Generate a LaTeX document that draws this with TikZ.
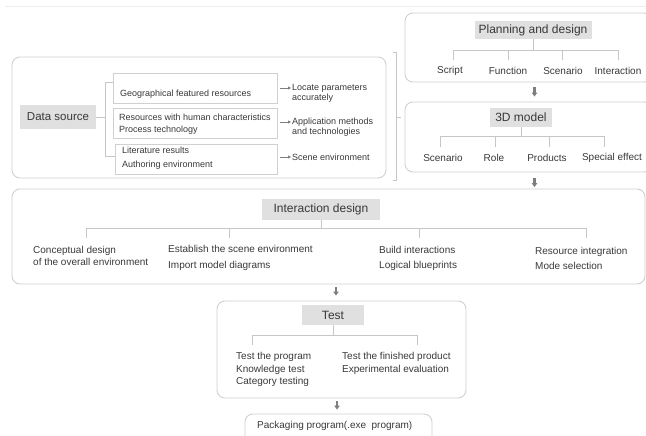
\documentclass[tikz,border=0pt]{standalone}
\usepackage{fontspec}
\setmainfont{Liberation Sans}
\usetikzlibrary{arrows.meta}
\definecolor{boxline}{HTML}{D0D0D0}
\definecolor{treeline}{HTML}{C6C6C6}
\definecolor{labfill}{HTML}{E0E0E0}
\definecolor{txt}{HTML}{383838}
\definecolor{arr}{HTML}{7E7E7E}
\definecolor{topl}{HTML}{EEEEEE}
\begin{document}
\begin{tikzpicture}[x=1pt,y=-1pt,
  panel/.style={draw=boxline, line width=0.9pt, rounded corners=8pt, inner sep=0},
  itembox/.style={draw=boxline, line width=0.9pt, inner sep=0},
  lab/.style={fill=labfill, text=txt, inner sep=0, font=\fontsize{12}{14}\selectfont},
  txtA/.style={text=txt, inner sep=0, font=\fontsize{10}{12}\selectfont, align=left},
  txtS/.style={text=txt, inner sep=0, font=\fontsize{9}{11}\selectfont, align=left},
  tree/.style={draw=treeline, line width=0.9pt},
  down/.style={draw=arr, line width=2.2pt, -{Triangle[width=5.5pt,length=4pt]}},
  smallarr/.style={draw=arr, line width=0.8pt, -{Triangle[width=3pt,length=3pt]}}
]
\useasboundingbox (0,0) rectangle (646,436);
\clip (0,0) rectangle (646,436);

% top rule
\coordinate (tl1) at (5,6);
\coordinate (tl2) at (646,6);
\draw[topl, line width=0.8pt] (tl1) -- (tl2);

% ---------------- Data source ----------------
\node[panel, minimum width=374pt, minimum height=121pt] (dsp) at (199,117.5) {};
\node[lab, font=\fontsize{11.5}{13}\selectfont, minimum width=76pt, minimum height=24pt] (dsl) at (58,117) {Data source};

\node[itembox, minimum width=164pt, minimum height=30pt] (b1) at (195,88) {};
\node[itembox, minimum width=164pt, minimum height=30pt] (b2) at (195,123) {};
\node[itembox, minimum width=162pt, minimum height=30pt] (b3) at (196,159) {};

\node[txtS, anchor=west] (g1) at (120,94) {Geographical featured resources};
\node[txtS, anchor=west, font=\fontsize{9}{12.3}\selectfont] (g2) at (119,124) {Resources with human characteristics\\Process technology};
\node[txtS, anchor=west, font=\fontsize{9}{13.3}\selectfont] (g3) at (122,158.3) {Literature results\\Authoring environment};

\coordinate (bk) at (105,117);
\coordinate (bt) at (105,82);
\coordinate (bb) at (105,156);
\draw[tree] (dsl.east) -- (bk);
\draw[tree] (bt -| b1.west) -- (bt) -- (bb) -- (bb -| b3.west);

\node[txtS, anchor=west, font=\fontsize{9}{10}\selectfont] (r1) at (292,93) {Locate parameters\\accurately};
\node[txtS, anchor=west, font=\fontsize{9}{10}\selectfont] (r2) at (292,126.7) {Application methods\\and technologies};
\node[txtS, anchor=west] (r3) at (292,157) {Scene environment};
\coordinate (a1) at (280,88);
\coordinate (a2) at (280,122);
\coordinate (a3) at (280,157);
\draw[smallarr] (a1) -- ([xshift=-1pt]a1 -| r1.west);
\draw[smallarr] (a2) -- ([xshift=-1pt]a2 -| r2.west);
\draw[smallarr] (a3) -- ([xshift=-1pt]a3 -| r3.west);

% bracket between left and right parts
\coordinate (rb1) at (393,52);
\coordinate (rb2) at (396,52);
\coordinate (rb3) at (396,180);
\coordinate (rb4) at (393,180);
\coordinate (rb5) at (396,117);
\coordinate (rb6) at (401,117);
\draw[tree] (rb1) -- (rb2) -- (rb3) -- (rb4);
\draw[tree] (rb5) -- (rb6);

% ---------------- Planning and design ----------------
\node[panel, minimum width=247pt, minimum height=69pt] (pdp) at (528.5,47.5) {};
\node[lab, minimum width=117pt, minimum height=18pt] (pdl) at (533,30) {Planning and design};
\node[txtA] (p1) at (450,71) {Script};
\node[txtA] (p2) at (508,71) {Function};
\node[txtA] (p3) at (563,71) {Scenario};
\node[txtA] (p4) at (618,71) {Interaction};
\coordinate (pj) at (533,50);
\coordinate (pd1) at (453,50);
\coordinate (pd2) at (508,50);
\coordinate (pd3) at (562,50);
\coordinate (pd4) at (618,50);
\draw[tree] (pdl.south) -- (pj);
\draw[tree] ([yshift=-10pt]pd1) -- (pd1) -- (pd4) -- ([yshift=-10pt]pd4);
\draw[tree] (pd2) -- ([yshift=-10pt]pd2);
\draw[tree] (pd3) -- ([yshift=-10pt]pd3);

% ---------------- 3D model ----------------
\node[panel, minimum width=247pt, minimum height=70pt] (tdp) at (528.5,137) {};
\node[lab, minimum width=62pt, minimum height=19pt] (tdl) at (521,117.5) {3D model};
\node[txtA] (m1) at (443,158) {Scenario};
\node[txtA] (m2) at (494,158) {Role};
\node[txtA] (m3) at (547,158) {Products};
\node[txtA] (m4) at (612,158) {Special effect};
\coordinate (mj) at (521,136);
\coordinate (md1) at (440,136);
\coordinate (md2) at (495,136);
\coordinate (md3) at (549,136);
\coordinate (md4) at (604,136);
\draw[tree] (tdl.south) -- (mj);
\draw[tree] ([yshift=-11pt]md1) -- (md1) -- (md4) -- ([yshift=-11pt]md4);
\draw[tree] (md2) -- ([yshift=-11pt]md2);
\draw[tree] (md3) -- ([yshift=-11pt]md3);

% ---------------- Interaction design ----------------
\node[panel, minimum width=633pt, minimum height=95pt] (idp) at (328.5,236.5) {};
\node[lab, minimum width=118pt, minimum height=21pt] (idl) at (321,209.5) {Interaction design};
\node[txtA, anchor=west] (i1) at (33,256) {Conceptual design\\of the overall environment};
\node[txtA, anchor=west, font=\fontsize{10}{15.5}\selectfont] (i2) at (168,258) {Establish the scene environment\\Import model diagrams};
\node[txtA, anchor=west, font=\fontsize{10}{15}\selectfont] (i3) at (379,258.5) {Build interactions\\Logical blueprints};
\node[txtA, anchor=west, font=\fontsize{10}{15}\selectfont] (i4) at (535,258.5) {Resource integration\\Mode selection};
\coordinate (ij) at (321,228);
\coordinate (id1) at (86,228);
\coordinate (id2) at (229,228);
\coordinate (id3) at (419,228);
\coordinate (id4) at (586,228);
\draw[tree] (idl.south) -- (ij);
\draw[tree] ([yshift=-10pt]id1) -- (id1) -- (id4) -- ([yshift=-10pt]id4);
\draw[tree] (id2) -- ([yshift=-10pt]id2);
\draw[tree] (id3) -- ([yshift=-10pt]id3);

% ---------------- Test ----------------
\node[panel, minimum width=249pt, minimum height=97pt] (tsp) at (341.5,349.5) {};
\node[lab, minimum width=62pt, minimum height=20pt] (tsl) at (333,315) {Test};
\node[txtA, anchor=west, font=\fontsize{10}{12.5}\selectfont] (s1) at (236,369.5) {Test the program\\Knowledge test\\Category testing};
\node[txtA, anchor=west, font=\fontsize{10}{12.5}\selectfont] (s2) at (342,363.5) {Test the finished product\\Experimental evaluation};
\coordinate (sj) at (333,335);
\coordinate (sd1) at (252,335);
\coordinate (sd2) at (417,335);
\draw[tree] (tsl.south) -- (sj);
\draw[tree] ([yshift=-10pt]sd1) -- (sd1) -- (sd2) -- ([yshift=-10pt]sd2);

% ---------------- Packaging ----------------
\node[panel, minimum width=187pt, minimum height=34pt] (pkp) at (338.5,431) {};
\node[txtA, anchor=west] (pkt) at (257,426) {Packaging program(.exe~ program)};

% ---------------- down arrows ----------------
\coordinate (x1) at (534.5,0);
\coordinate (x2) at (336,0);
\coordinate (x3) at (337,0);
\draw[down, shorten <=5pt, shorten >=5pt] (pdp.south -| x1) -- (tdp.north -| x1);
\draw[down, shorten <=6pt, shorten >=1.5pt] (tdp.south -| x1) -- (idp.north -| x1);
\draw[down, shorten <=2.5pt, shorten >=5pt] (idp.south -| x2) -- (tsp.north -| x2);
\draw[down, shorten <=3pt, shorten >=4pt] (tsp.south -| x3) -- (pkp.north -| x3);
\end{tikzpicture}
\end{document}
